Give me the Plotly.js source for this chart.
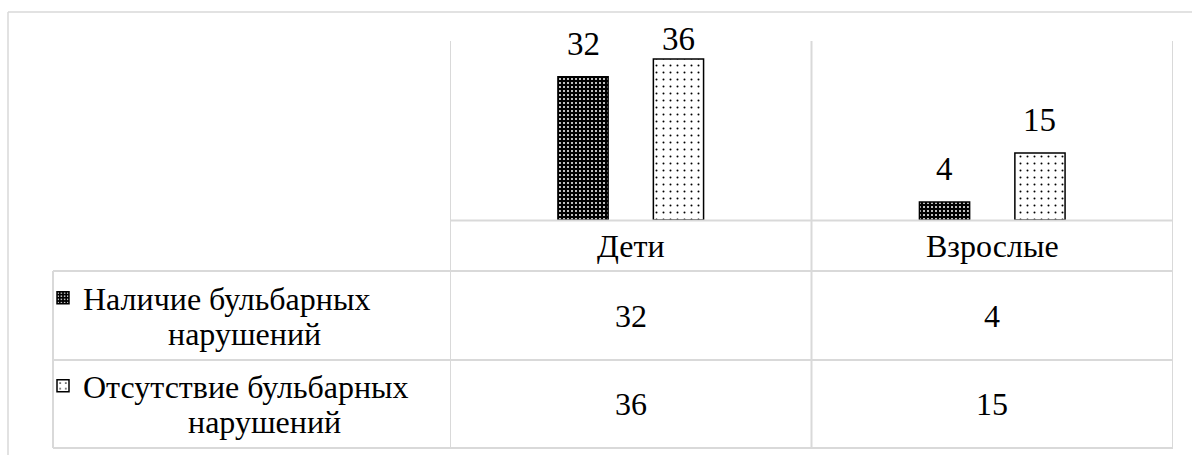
<!DOCTYPE html>
<html>
<head>
<meta charset="utf-8">
<script src="https://cdn.plot.ly/plotly-3.0.1.min.js"></script>
</head>
<body style="margin:0;background:#fff">
<div id="chart"></div>
<script>
// ---- data ----
var categories = ["Дети", "Взрослые"];
var seriesNames = ["Наличие бульбарных нарушений", "Отсутствие бульбарных нарушений"];
var seriesPresent = [32, 4];
var seriesAbsent = [36, 15];
var yMax = 40;

(function () {
  var W = 1192, H = 455;
  var plotL = 450, plotR = 1173, plotT = 41, plotB = 220;
  var tableL = 53, tableRows = [220.5, 271, 360, 448];
  function px(p) { return p / W; }
  function py(p) { return 1 - p / H; }
  var fam = "Liberation Serif";
  var grid = "#d9d9d9";
  var bargap = 0.472, bargroupgap = 0.474;
  var pxPerUnit = (plotB - plotT) / yMax;
  var allSeries = [seriesPresent, seriesAbsent];
  var patterns = [
    {shape: ".", fgcolor: "#ffffff", bgcolor: "#000000", size: 4, solidity: 0.2, fillmode: "replace"},
    {shape: ".", fgcolor: "#000000", bgcolor: "#ffffff", size: 7, solidity: 0.065, fillmode: "replace"}
  ];

  var traces = allSeries.map(function (vals, s) {
    return {
      type: "bar", x: categories, y: vals,
      name: seriesNames[s].slice(0, seriesNames[s].lastIndexOf(" ")),
      legend: s === 0 ? "legend" : "legend2",
      marker: {color: s === 0 ? "#000" : "#fff", pattern: patterns[s], line: {color: "#000", width: 1.5}},
      hoverinfo: "skip"
    };
  });

  var annotations = [];
  var slot = (1 - bargap) / 2;
  allSeries.forEach(function (vals, s) {
    vals.forEach(function (v, i) {
      var topPx = plotB - v * pxPerUnit;
      var shift = Math.min(13, topPx - 59); // keep labels inside chart area
      annotations.push({xref: "x", yref: "y", x: i + (s === 0 ? -slot / 2 : slot / 2), y: v,
        text: String(v), showarrow: false, xanchor: "center", yanchor: "bottom", yshift: shift,
        font: {family: fam, size: 33, color: "#000"}});
    });
  });
  categories.forEach(function (c, i) {
    annotations.push({xref: "x", yref: "paper", x: i, y: py((tableRows[0] + tableRows[1]) / 2),
      text: c, showarrow: false, xanchor: "center", yanchor: "middle",
      font: {family: fam, size: 32, color: "#000"}});
  });
  allSeries.forEach(function (vals, s) {
    var yc = (tableRows[s + 1] + tableRows[s + 2]) / 2;
    vals.forEach(function (v, i) {
      annotations.push({xref: "x", yref: "paper", x: i, y: py(yc),
        text: String(v), showarrow: false, xanchor: "center", yanchor: "middle",
        font: {family: fam, size: 32, color: "#000"}});
    });
    var second = seriesNames[s].slice(seriesNames[s].lastIndexOf(" ") + 1);
    annotations.push({xref: "paper", yref: "paper", x: px(s === 0 ? 244 : 264), y: py(s === 0 ? 334 : 422),
      text: second, showarrow: false, xanchor: "center", yanchor: "middle",
      font: {family: fam, size: 32, color: "#000"}});
  });

  var shapes = [];
  function seg(x0, y0, x1, y1, w, xref) {
    shapes.push({type: "line", xref: xref || "paper", yref: "paper",
      x0: x0, y0: y0, x1: x1, y1: y1, line: {color: grid, width: w}});
  }
  seg(px(8), py(12), px(1192), py(12), 1.5);
  seg(px(8), py(12), px(8), py(455), 1.5);
  seg(px(plotL), py(tableRows[0]), px(plotR), py(tableRows[0]), 2);
  for (var r = 1; r < tableRows.length; r++) seg(px(tableL), py(tableRows[r]), px(plotR), py(tableRows[r]), 2);
  seg(px(tableL), py(tableRows[1]), px(tableL), py(tableRows[3]), 2);
  for (var b = 0; b <= categories.length; b++) seg(b - 0.5, py(plotT), b - 0.5, py(tableRows[3]), 2, "x");

  function leg(yc) {
    return {x: px(43), y: py(yc), xref: "paper", yref: "paper", xanchor: "left", yanchor: "middle",
      bgcolor: "rgba(0,0,0,0)", borderwidth: 0, font: {family: fam, size: 32, color: "#000"}};
  }

  var layout = {
    width: W, height: H,
    margin: {l: 0, r: 0, t: 0, b: 0},
    font: {family: fam, color: "#000"},
    paper_bgcolor: "#fff", plot_bgcolor: "rgba(0,0,0,0)",
    barmode: "group", bargap: bargap, bargroupgap: bargroupgap,
    showlegend: true,
    legend: leg(298),
    legend2: leg(386),
    xaxis: {domain: [px(plotL), px(plotR)], range: [-0.5, categories.length - 0.5], type: "category",
      showticklabels: false, showgrid: false, zeroline: false, showline: false},
    yaxis: {domain: [1 - plotB / H, 1 - plotT / H], range: [0, yMax], visible: false},
    annotations: annotations,
    shapes: shapes
  };

  Plotly.newPlot("chart", traces, layout, {displayModeBar: false, staticPlot: true});
})();
</script>
</body>
</html>
